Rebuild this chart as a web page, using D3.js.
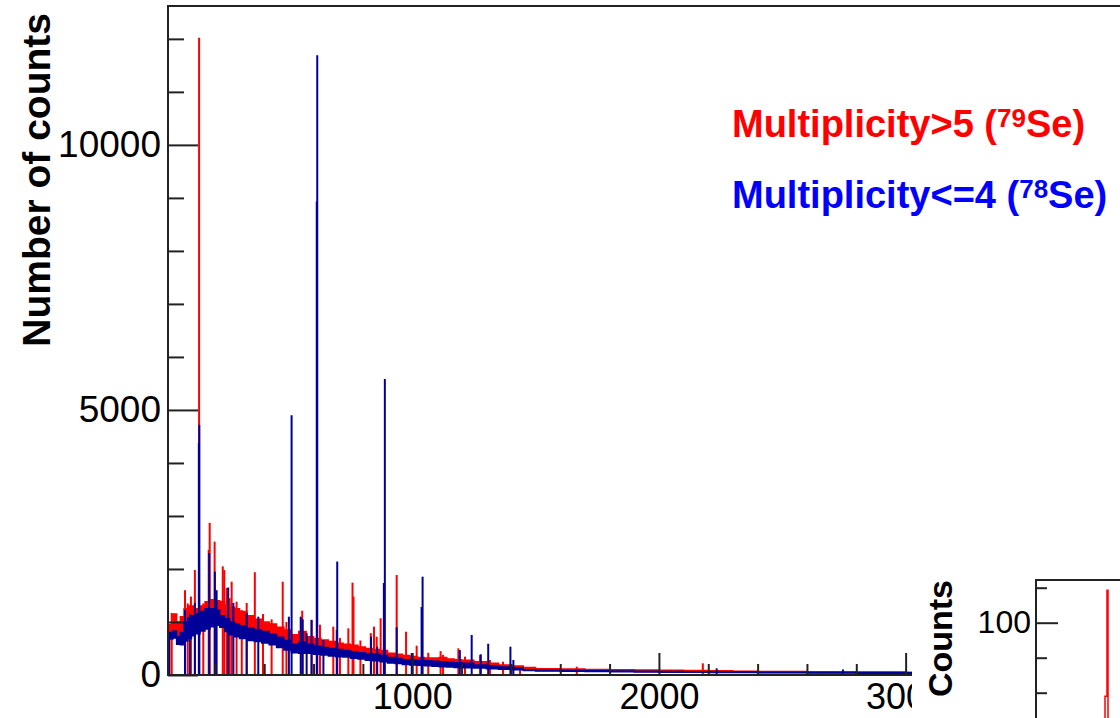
<!DOCTYPE html>
<html>
<head>
<meta charset="utf-8">
<script src="https://cdn.jsdelivr.net/npm/d3@7"></script>
<style>
  body { margin: 0; background: #fff; }
  text { font-family: "Liberation Sans", Arial, sans-serif; }
</style>
</head>
<body>
<svg id="chart" width="1120" height="718"></svg>
<script>
  // continuum sampled on an energy grid (keV), lower and upper edge of the noisy band
  var energies = [10, 16, 30, 45, 60, 75, 90, 105, 120,
    140, 160, 180, 200, 220, 240, 260, 280, 300,
    330, 360, 390, 420, 450, 480, 510, 540, 570, 600,
    630, 660, 690, 720, 750, 780, 810, 840, 870, 900,
    930, 960, 990, 1020, 1050, 1080, 1110, 1140, 1170, 1200,
    1250, 1300, 1350, 1400, 1450, 1500,
    1600, 1700, 1800, 1900, 2000,
    2100, 2200, 2300, 2400, 2600, 2800, 3000, 3200];

  var blueLow = [0, 680, 700, 580, 570, 640, 690, 740, 780,
    830, 870, 910, 940, 900, 820, 760, 720, 690,
    650, 630, 605, 570, 520, 470, 420, 410, 410, 390,
    375, 360, 345, 340, 315, 300, 280, 270, 250, 225,
    215, 200, 190, 185, 175, 165, 155, 150, 140, 135,
    130, 120, 110, 100, 85, 75,
    70, 65, 60, 55, 52,
    50, 48, 45, 42, 38, 35, 32, 30];

  var blueHigh = [0, 800, 830, 720, 800, 1000, 1080, 1120, 1150,
    1200, 1250, 1250, 1220, 1120, 1060, 1000, 960, 930,
    880, 850, 820, 770, 710, 650, 580, 620, 580, 540,
    520, 500, 480, 460, 440, 420, 400, 390, 370, 330,
    310, 290, 280, 280, 270, 260, 250, 240, 230, 220,
    190, 170, 150, 130, 100, 90,
    85, 80, 75, 70, 66,
    62, 60, 56, 52, 48, 45, 42, 40];

  var redLow = [0, 700, 750, 650, 700, 800, 850, 900, 950,
    1000, 1050, 1050, 1050, 1000, 950, 900, 850, 820,
    780, 750, 720, 680, 620, 580, 520, 520, 500, 470,
    450, 430, 410, 400, 380, 360, 340, 330, 310, 280,
    270, 250, 240, 230, 220, 210, 200, 190, 180, 170,
    160, 150, 130, 115, 95, 85,
    80, 75, 70, 65, 60,
    58, 55, 52, 48, 44, 40, 36, 34];

  var redHigh = [0, 950, 1150, 1000, 1100, 1250, 1300, 1300, 1250,
    1300, 1380, 1420, 1400, 1380, 1320, 1280, 1250, 1200,
    1120, 1050, 1000, 960, 900, 850, 760, 820, 720, 690,
    660, 630, 600, 580, 560, 530, 500, 480, 460, 410,
    390, 370, 350, 330, 320, 320, 330, 300, 290, 280,
    250, 220, 190, 170, 140, 120,
    115, 105, 100, 95, 90,
    85, 80, 70, 65, 60, 55, 50, 45];

  // gamma lines [energy keV, counts]
  var redPeaks = [[25, 1170], [79, 1600], [90, 1350], [103, 1480], [119, 1980],
    [136, 12020], [153, 1350], [175, 2360], [179, 2870], [199, 2515],
    [232, 2050], [238, 1980], [248, 1640], [260, 1450], [268, 1760],
    [288, 1383], [309, 1225], [329, 1358], [362, 1940], [395, 1150],
    [430, 1050], [475, 1760], [490, 1000], [554, 1213], [592, 1040],
    [626, 950], [680, 912], [707, 700], [741, 880], [758, 1742],
    [762, 1478], [790, 650], [832, 790], [845, 912], [856, 723],
    [872, 1070], [937, 1887], [975, 817], [1018, 553], [1065, 420],
    [1115, 450], [1125, 380], [1187, 503], [1214, 346], [1275, 377],
    [1315, 283], [1368, 251], [1437, 157], [1667, 157], [2178, 220]];

  var bluePeaks = [[79, 1225], [99, 1150], [119, 1360], [135, 4380], [137, 4720],
    [177, 2300], [200, 1950], [207, 1600], [254, 1650], [275, 1360],
    [329, 1170], [376, 1100], [500, 1100], [511, 4900], [548, 1100],
    [556, 1050], [572, 790], [592, 1040], [613, 8930], [615, 11690],
    [640, 660], [694, 850], [696, 2140], [833, 723], [858, 534],
    [885, 1735], [889, 5585], [937, 900], [998, 415], [1038, 1283],
    [1042, 1855], [1193, 470], [1241, 755], [1278, 390], [1308, 590],
    [1398, 534], [1410, 283], [2234, 126], [2746, 105]];

  var xMajor = [1000, 2000, 3000];
  var xMinor = [200, 400, 600, 800, 1200, 1400, 1600, 1800, 2200, 2400, 2600, 2800, 3200, 3400, 3600];
  var yMajor = [0, 5000, 10000];
  var yMinor = [1000, 2000, 3000, 4000, 6000, 7000, 8000, 9000, 11000, 12000];

  // inset spectrum, one bin per channel
  var insetChannels = [64, 65, 66, 67, 68, 69, 70, 71, 72, 73, 74, 75, 76];
  var insetCounts = [8, 12, 9, 10, 14, 58, 58, 118.5, 22, 10, 7, 9, 6];
  var insetMajor = [100];
  var insetMinor = [60, 80, 120];

  var svg = d3.select('#chart');

  var x = d3.scaleLinear().domain([10, 4096]).range([168, 1176]);
  var y = d3.scaleLinear().domain([0, 12620]).range([675, 6]);

  svg.append('clipPath').attr('id', 'plotclip')
    .append('rect').attr('x', 168).attr('y', 0).attr('width', 912 - 168).attr('height', 676);
  svg.append('clipPath').attr('id', 'axisclip')
    .append('rect').attr('x', 0).attr('y', 0).attr('width', 912).attr('height', 718);

  var band = d3.area()
    .x(function (d) { return x(d.e); })
    .y0(function (d) { return y(d.lo); })
    .y1(function (d) { return y(d.hi); })
    .curve(d3.curveStepAfter);

  var plot = svg.append('g').attr('clip-path', 'url(#plotclip)');

  function drawSeries(low, high, peaks, color) {
    var rows = energies.map(function (e, i) {
      return { e: e, lo: low[i], hi: high[i] };
    });
    var g = plot.append('g');
    g.append('path').datum(rows)
      .attr('d', band)
      .attr('fill', color)
      .attr('stroke', color)
      .attr('stroke-width', 1.5);
    g.selectAll('line')
      .data(peaks)
      .enter().append('line')
      .attr('x1', function (d) { return x(d[0]); })
      .attr('x2', function (d) { return x(d[0]); })
      .attr('y1', y(0))
      .attr('y2', function (d) { return y(d[1]); })
      .attr('stroke', color)
      .attr('stroke-width', 2);
  }

  drawSeries(redLow, redHigh, redPeaks, '#ff0000');
  drawSeries(blueLow, blueHigh, bluePeaks, '#000099');

  // axes (ticks inside the frame, ROOT style)
  var xAxisG = svg.append('g').attr('clip-path', 'url(#axisclip)');
  xAxisG.append('g')
    .attr('transform', 'translate(0,675)')
    .call(d3.axisBottom(x).tickValues(xMinor).tickSize(-11).tickFormat(''));
  xAxisG.append('g')
    .attr('class', 'xmaj')
    .attr('transform', 'translate(0,675)')
    .call(d3.axisBottom(x).tickValues(xMajor).tickSize(-22).tickPadding(8).tickFormat(d3.format('d')));

  svg.append('g')
    .attr('transform', 'translate(168,0)')
    .call(d3.axisLeft(y).tickValues(yMinor).tickSize(-16).tickFormat(''));
  svg.append('g')
    .attr('class', 'ymaj')
    .attr('transform', 'translate(168,0)')
    .call(d3.axisLeft(y).tickValues(yMajor).tickSize(-30).tickPadding(7).tickFormat(d3.format('d')));

  svg.selectAll('.domain').remove();
  svg.selectAll('.tick line').attr('stroke', '#222').attr('stroke-width', 2);
  svg.selectAll('.xmaj text, .ymaj text')
    .attr('fill', '#000')
    .style('font-size', '37px');
  svg.selectAll('.xmaj text').style('font-size', '36px');

  // frame
  svg.append('line').attr('x1', 168).attr('x2', 1120).attr('y1', 6).attr('y2', 6)
    .attr('stroke', '#222').attr('stroke-width', 2);
  svg.append('line').attr('x1', 168).attr('x2', 168).attr('y1', 5).attr('y2', 676)
    .attr('stroke', '#222').attr('stroke-width', 2);
  svg.append('line').attr('x1', 167).attr('x2', 912).attr('y1', 675).attr('y2', 675)
    .attr('stroke', '#222').attr('stroke-width', 2);

  svg.append('text')
    .attr('transform', 'translate(50,13) rotate(-90)')
    .attr('text-anchor', 'end')
    .style('font-size', '39px')
    .style('font-weight', 'bold')
    .text('Number of counts');

  // legend
  function legendLine(yBase, label, mass, color) {
    var t = svg.append('text')
      .attr('x', 732).attr('y', yBase)
      .attr('fill', color)
      .style('font-size', '38px')
      .style('font-weight', 'bold');
    t.append('tspan').text(label + ' (');
    t.append('tspan').attr('dy', -10).style('font-size', '26px').text(mass);
    t.append('tspan').attr('dy', 10).text('Se)');
  }
  legendLine(137, 'Multiplicity>5', '79', '#ff0000');
  legendLine(208, 'Multiplicity<=4', '78', '#0000ff');

  // inset panel
  var ix = d3.scaleLinear().domain([0, 100]).range([1036, 1136]);
  var iy = d3.scaleLinear().domain([0, 124.4]).range([797.7, 580]);

  var insetRows = insetChannels.map(function (c, i) { return { c: c, v: insetCounts[i] }; });
  insetRows.push({ c: insetChannels[insetChannels.length - 1] + 1, v: insetCounts[insetCounts.length - 1] });
  svg.append('path').datum(insetRows)
    .attr('d', d3.line()
      .x(function (d) { return ix(d.c); })
      .y(function (d) { return iy(d.v); })
      .curve(d3.curveStepAfter))
    .attr('fill', 'none')
    .attr('stroke', '#ff0000')
    .attr('stroke-width', 1.5);

  svg.append('g')
    .attr('transform', 'translate(1036,0)')
    .call(d3.axisLeft(iy).tickValues(insetMinor).tickSize(-11).tickFormat(''));
  svg.append('g')
    .attr('class', 'imaj')
    .attr('transform', 'translate(1036,0)')
    .call(d3.axisLeft(iy).tickValues(insetMajor).tickSize(-22).tickPadding(5).tickFormat(d3.format('d')));
  svg.selectAll('.domain').remove();
  svg.selectAll('.tick line').attr('stroke', '#222').attr('stroke-width', 2);
  svg.selectAll('.imaj text').attr('fill', '#000').style('font-size', '32px');

  svg.append('line').attr('x1', 1036).attr('x2', 1120).attr('y1', 580).attr('y2', 580)
    .attr('stroke', '#222').attr('stroke-width', 2);
  svg.append('line').attr('x1', 1036).attr('x2', 1036).attr('y1', 579).attr('y2', 718)
    .attr('stroke', '#222').attr('stroke-width', 2);

  svg.append('text')
    .attr('transform', 'translate(952,580) rotate(-90)')
    .attr('text-anchor', 'end')
    .style('font-size', '34px')
    .style('font-weight', 'bold')
    .text('Counts');
</script>
</body>
</html>
